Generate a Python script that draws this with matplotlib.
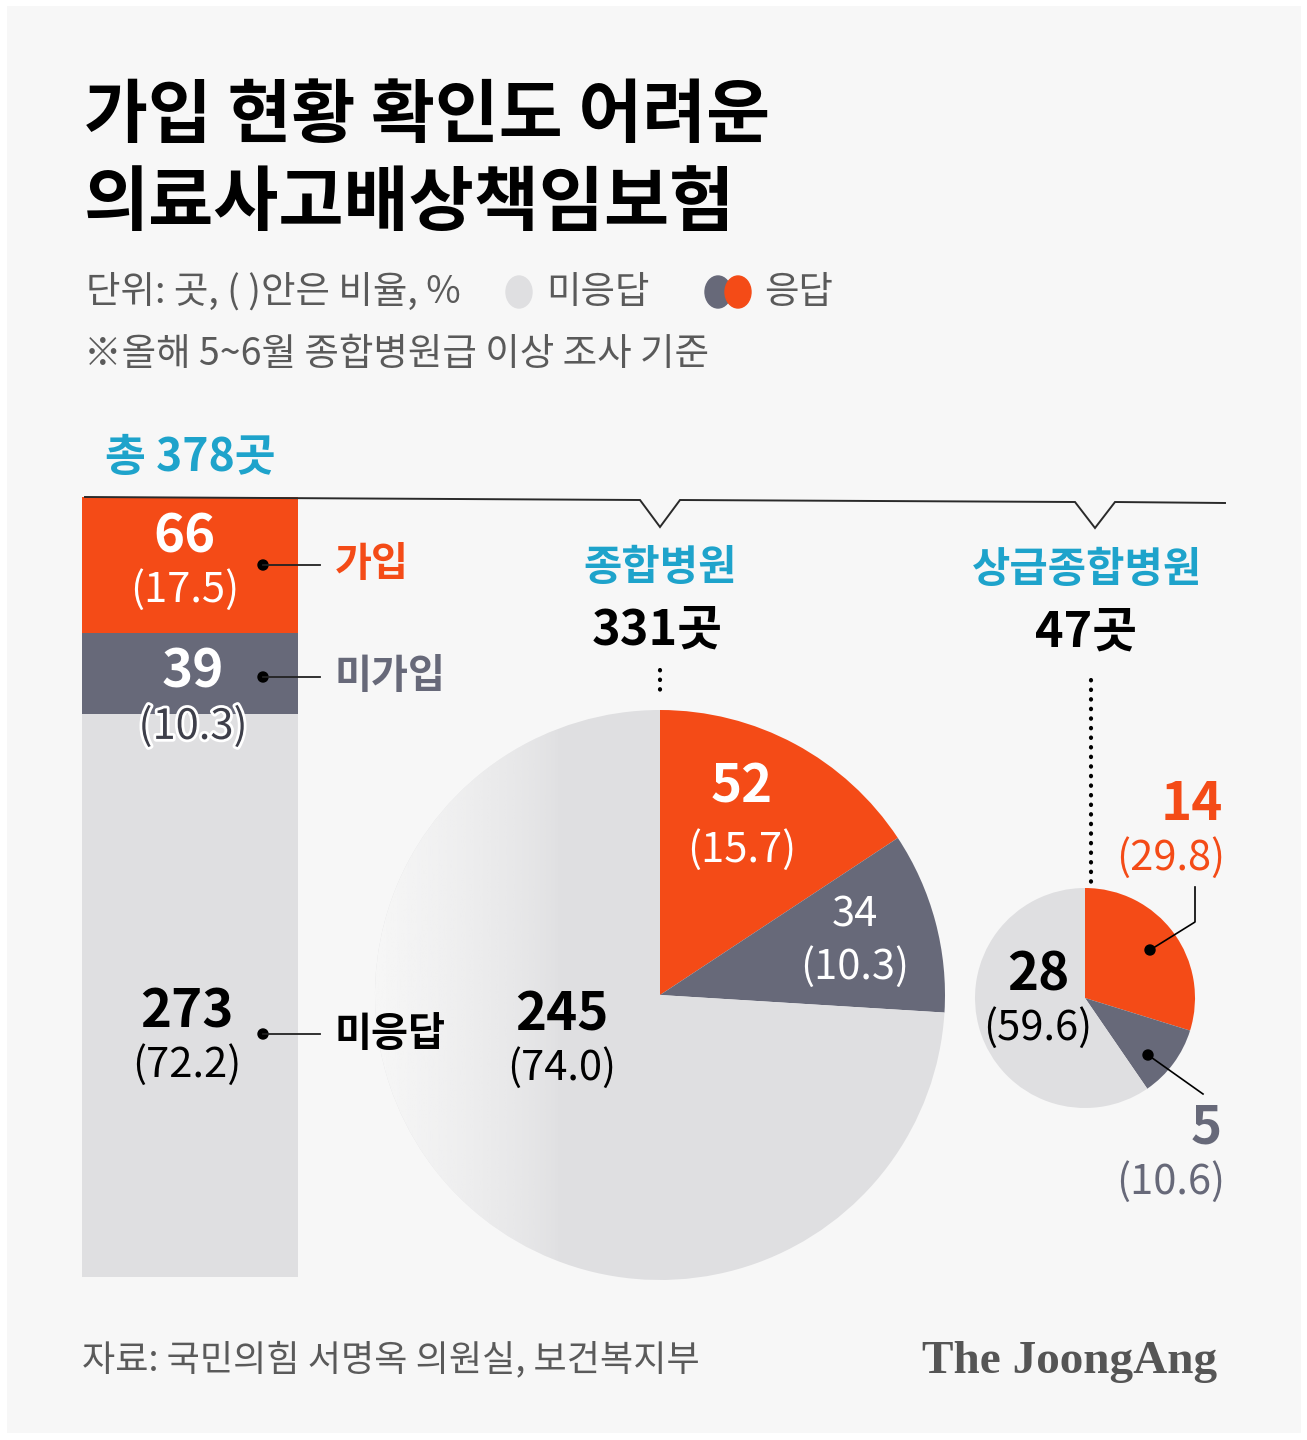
import matplotlib
matplotlib.use("Agg")
import matplotlib.pyplot as plt
import numpy as np
from matplotlib.patches import Ellipse, Circle
import matplotlib.patheffects as pe

plt.rcParams['font.family'] = ['Noto Sans CJK KR', 'DejaVu Sans']

# ---- data ----
total = 378
bar_labels = ['가입', '미가입', '미응답']
bar_counts = [66, 39, 273]
bar_pcts = [17.5, 10.3, 72.2]

gen_name = '종합병원'
gen_total = 331
gen_counts = [52, 34, 245]          # 가입, 미가입, 미응답
gen_pcts = [15.7, 10.3, 74.0]

top_name = '상급종합병원'
top_total = 47
top_counts = [14, 5, 28]
top_pcts = [29.8, 10.6, 59.6]

ORANGE = '#f44b17'
SLATE = '#676979'
LIGHT = '#dfdfe1'
BG = '#f7f7f7'
CYAN = '#1ea3cb'
GREYTXT = '#5a5a5a'
colors = [ORANGE, SLATE, LIGHT]

W, H = 1307, 1440
fig = plt.figure(figsize=(W / 100, H / 100), dpi=100)
fig.patch.set_facecolor('white')


def box(x0, y0, x1, y1):
    # pixel box (top-left origin) -> figure fraction
    return [x0 / W, 1 - y1 / H, (x1 - x0) / W, (y1 - y0) / H]


# background panel
bg = fig.add_axes(box(7, 6, 1301, 1433))
bg.set_facecolor(BG)
bg.set_xticks([]); bg.set_yticks([])
for s in bg.spines.values():
    s.set_visible(False)

# ---- stacked bar ----
bax = fig.add_axes(box(82, 497, 298, 1277))
bottom = 0
for c, col in zip(bar_counts, colors):
    bax.bar(0, c, bottom=bottom, width=1, color=col, linewidth=0)
    bottom += c
bax.set_xlim(-0.5, 0.5)
bax.set_ylim(total, 0)
bax.axis('off')

# ---- big pie ----
cx, cy, r = 660, 995, 285
pax = fig.add_axes(box(cx - r, cy - r, cx + r, cy + r))
wedges, _ = pax.pie(gen_counts, colors=colors, startangle=90, counterclock=False,
                    radius=1, wedgeprops=dict(linewidth=0))
pax.set_xlim(-1, 1); pax.set_ylim(-1, 1)
pax.axis('off')
# soft fade on the left side of the pie
grad = np.zeros((2, 256, 4))
grad[..., :3] = matplotlib.colors.to_rgb(BG)
xs = np.linspace(-1, 1, 256)
grad[..., 3] = np.clip((-0.35 - xs) / 0.65, 0, 1) ** 0.7
im = pax.imshow(grad, extent=(-1, 1, -1, 1), aspect='auto', zorder=5)
im.set_clip_path(wedges[2])

# ---- small pie ----
sx, sy, sr = 1085, 998, 110
sax = fig.add_axes(box(sx - sr, sy - sr, sx + sr, sy + sr))
sax.pie(top_counts, colors=colors, startangle=90, counterclock=False,
        radius=1, wedgeprops=dict(linewidth=0))
sax.set_xlim(-1, 1); sax.set_ylim(-1, 1)
sax.axis('off')

# ---- overlay for text and lines ----
ax = fig.add_axes([0, 0, 1, 1], zorder=10)
ax.set_xlim(0, W); ax.set_ylim(H, 0)
ax.patch.set_alpha(0)
ax.axis('off')

# title
ax.text(84, 117, '가입 현황 확인도 어려운', fontsize=50, fontweight='black', va='center', ha='left')
ax.text(84, 204, '의료사고배상책임보험', fontsize=51, fontweight='black', va='center', ha='left')

# unit / legend
ax.text(86, 292, '단위: 곳, ( )안은 비율, %', fontsize=27, color=GREYTXT, va='center')
ax.add_patch(Ellipse((519, 292), 26, 32, color=LIGHT))
ax.text(546, 292, '미응답', fontsize=27, color=GREYTXT, va='center')
ax.add_patch(Ellipse((718, 292), 26, 32, color=SLATE))
ax.add_patch(Ellipse((738, 292), 26, 32, color=ORANGE))
ax.text(764, 292, '응답', fontsize=27, color=GREYTXT, va='center')
ax.text(84, 355, '※올해 5~6월 종합병원급 이상 조사 기준', fontsize=27, color=GREYTXT, va='center')

# total
ax.text(105, 458, f'총 {total}곳', fontsize=32, fontweight='bold', color=CYAN, va='center')

# bracket line with notches
lx = [85, 640, 660, 680, 1075, 1095, 1115, 1225]
ly = [497, 500, 527, 500, 502, 528, 502, 503]
ax.plot(lx, ly, color='#2a2a2a', lw=1.4, solid_joinstyle='miter')

# bar labels
ax.text(185, 537, f'{bar_counts[0]}', fontsize=38, fontweight='bold', color='white', ha='center', va='center')
ax.text(185, 590, f'({bar_pcts[0]})', fontsize=30, color='white', ha='center', va='center')
ax.text(193, 672, f'{bar_counts[1]}', fontsize=38, fontweight='bold', color='white', ha='center', va='center')
ax.text(193, 727, f'({bar_pcts[1]})', fontsize=30, color='#3e3f4a', ha='center', va='center',
        path_effects=[pe.withStroke(linewidth=4, foreground='white')])
ax.text(187, 1012, f'{bar_counts[2]}', fontsize=38, fontweight='bold', color='black', ha='center', va='center')
ax.text(187, 1065, f'({bar_pcts[2]})', fontsize=30, color='black', ha='center', va='center')

# bar category markers
label_rows = [(565, ORANGE), (677, SLATE), (1034, 'black')]
for (yy, col), lab in zip(label_rows, bar_labels):
    ax.plot([263, 320], [yy, yy], color='#222222', lw=1.3)
    ax.add_patch(Circle((263, yy), 5, color='black'))
    ax.text(335, yy, lab, fontsize=29, fontweight='bold', color=col, va='center', ha='left')

# group headers
ax.text(660, 568, gen_name, fontsize=30, fontweight='bold', color=CYAN, ha='center', va='center')
ax.text(657, 630, f'{gen_total}곳', fontsize=35, fontweight='bold', color='black', ha='center', va='center')
ax.plot([660, 660], [670, 698], color='black', lw=3, linestyle=(0, (0.1, 2.2)), dash_capstyle='round')
ax.text(1087, 570, top_name, fontsize=30, fontweight='bold', color=CYAN, ha='center', va='center')
ax.text(1086, 632, f'{top_total}곳', fontsize=35, fontweight='bold', color='black', ha='center', va='center')
ax.plot([1091, 1091], [680, 882], color='black', lw=3, linestyle=(0, (0.1, 2.2)), dash_capstyle='round')

# big pie labels
ax.text(742, 787, f'{gen_counts[0]}', fontsize=38, fontweight='bold', color='white', ha='center', va='center')
ax.text(742, 850, f'({gen_pcts[0]})', fontsize=30, color='white', ha='center', va='center')
ax.text(855, 915, f'{gen_counts[1]}', fontsize=30, color='white', ha='center', va='center')
ax.text(855, 967, f'({gen_pcts[1]})', fontsize=30, color='white', ha='center', va='center')
ax.text(562, 1015, f'{gen_counts[2]}', fontsize=38, fontweight='bold', color='black', ha='center', va='center')
ax.text(562, 1068, f'({gen_pcts[2]})', fontsize=30, color='black', ha='center', va='center')

# small pie labels
ax.text(1038, 975, f'{top_counts[2]}', fontsize=38, fontweight='bold', color='black', ha='center', va='center')
ax.text(1038, 1028, f'({top_pcts[2]})', fontsize=30, color='black', ha='center', va='center')
ax.text(1223, 805, f'{top_counts[0]}', fontsize=38, fontweight='bold', color=ORANGE, ha='right', va='center')
ax.text(1225, 858, f'({top_pcts[0]})', fontsize=30, color=ORANGE, ha='right', va='center')
ax.plot([1150, 1195, 1195], [950, 922, 887], color='black', lw=1.2)
ax.add_patch(Circle((1150, 950), 5, color='black'))
ax.text(1222, 1128, f'{top_counts[1]}', fontsize=38, fontweight='bold', color=SLATE, ha='right', va='center')
ax.text(1225, 1182, f'({top_pcts[1]})', fontsize=30, color=SLATE, ha='right', va='center')
ax.plot([1148, 1203], [1055, 1094], color='black', lw=1.2)
ax.add_patch(Circle((1148, 1055), 5, color='black'))

# footer
ax.text(82, 1360, '자료: 국민의힘 서명옥 의원실, 보건복지부', fontsize=26, color=GREYTXT, va='center')
ax.text(1217, 1362, 'The JoongAng', fontsize=34, fontweight='bold', family='Liberation Serif',
        color='#555555', ha='right', va='center')

fig.savefig('out.png', dpi=100, facecolor=fig.get_facecolor())
